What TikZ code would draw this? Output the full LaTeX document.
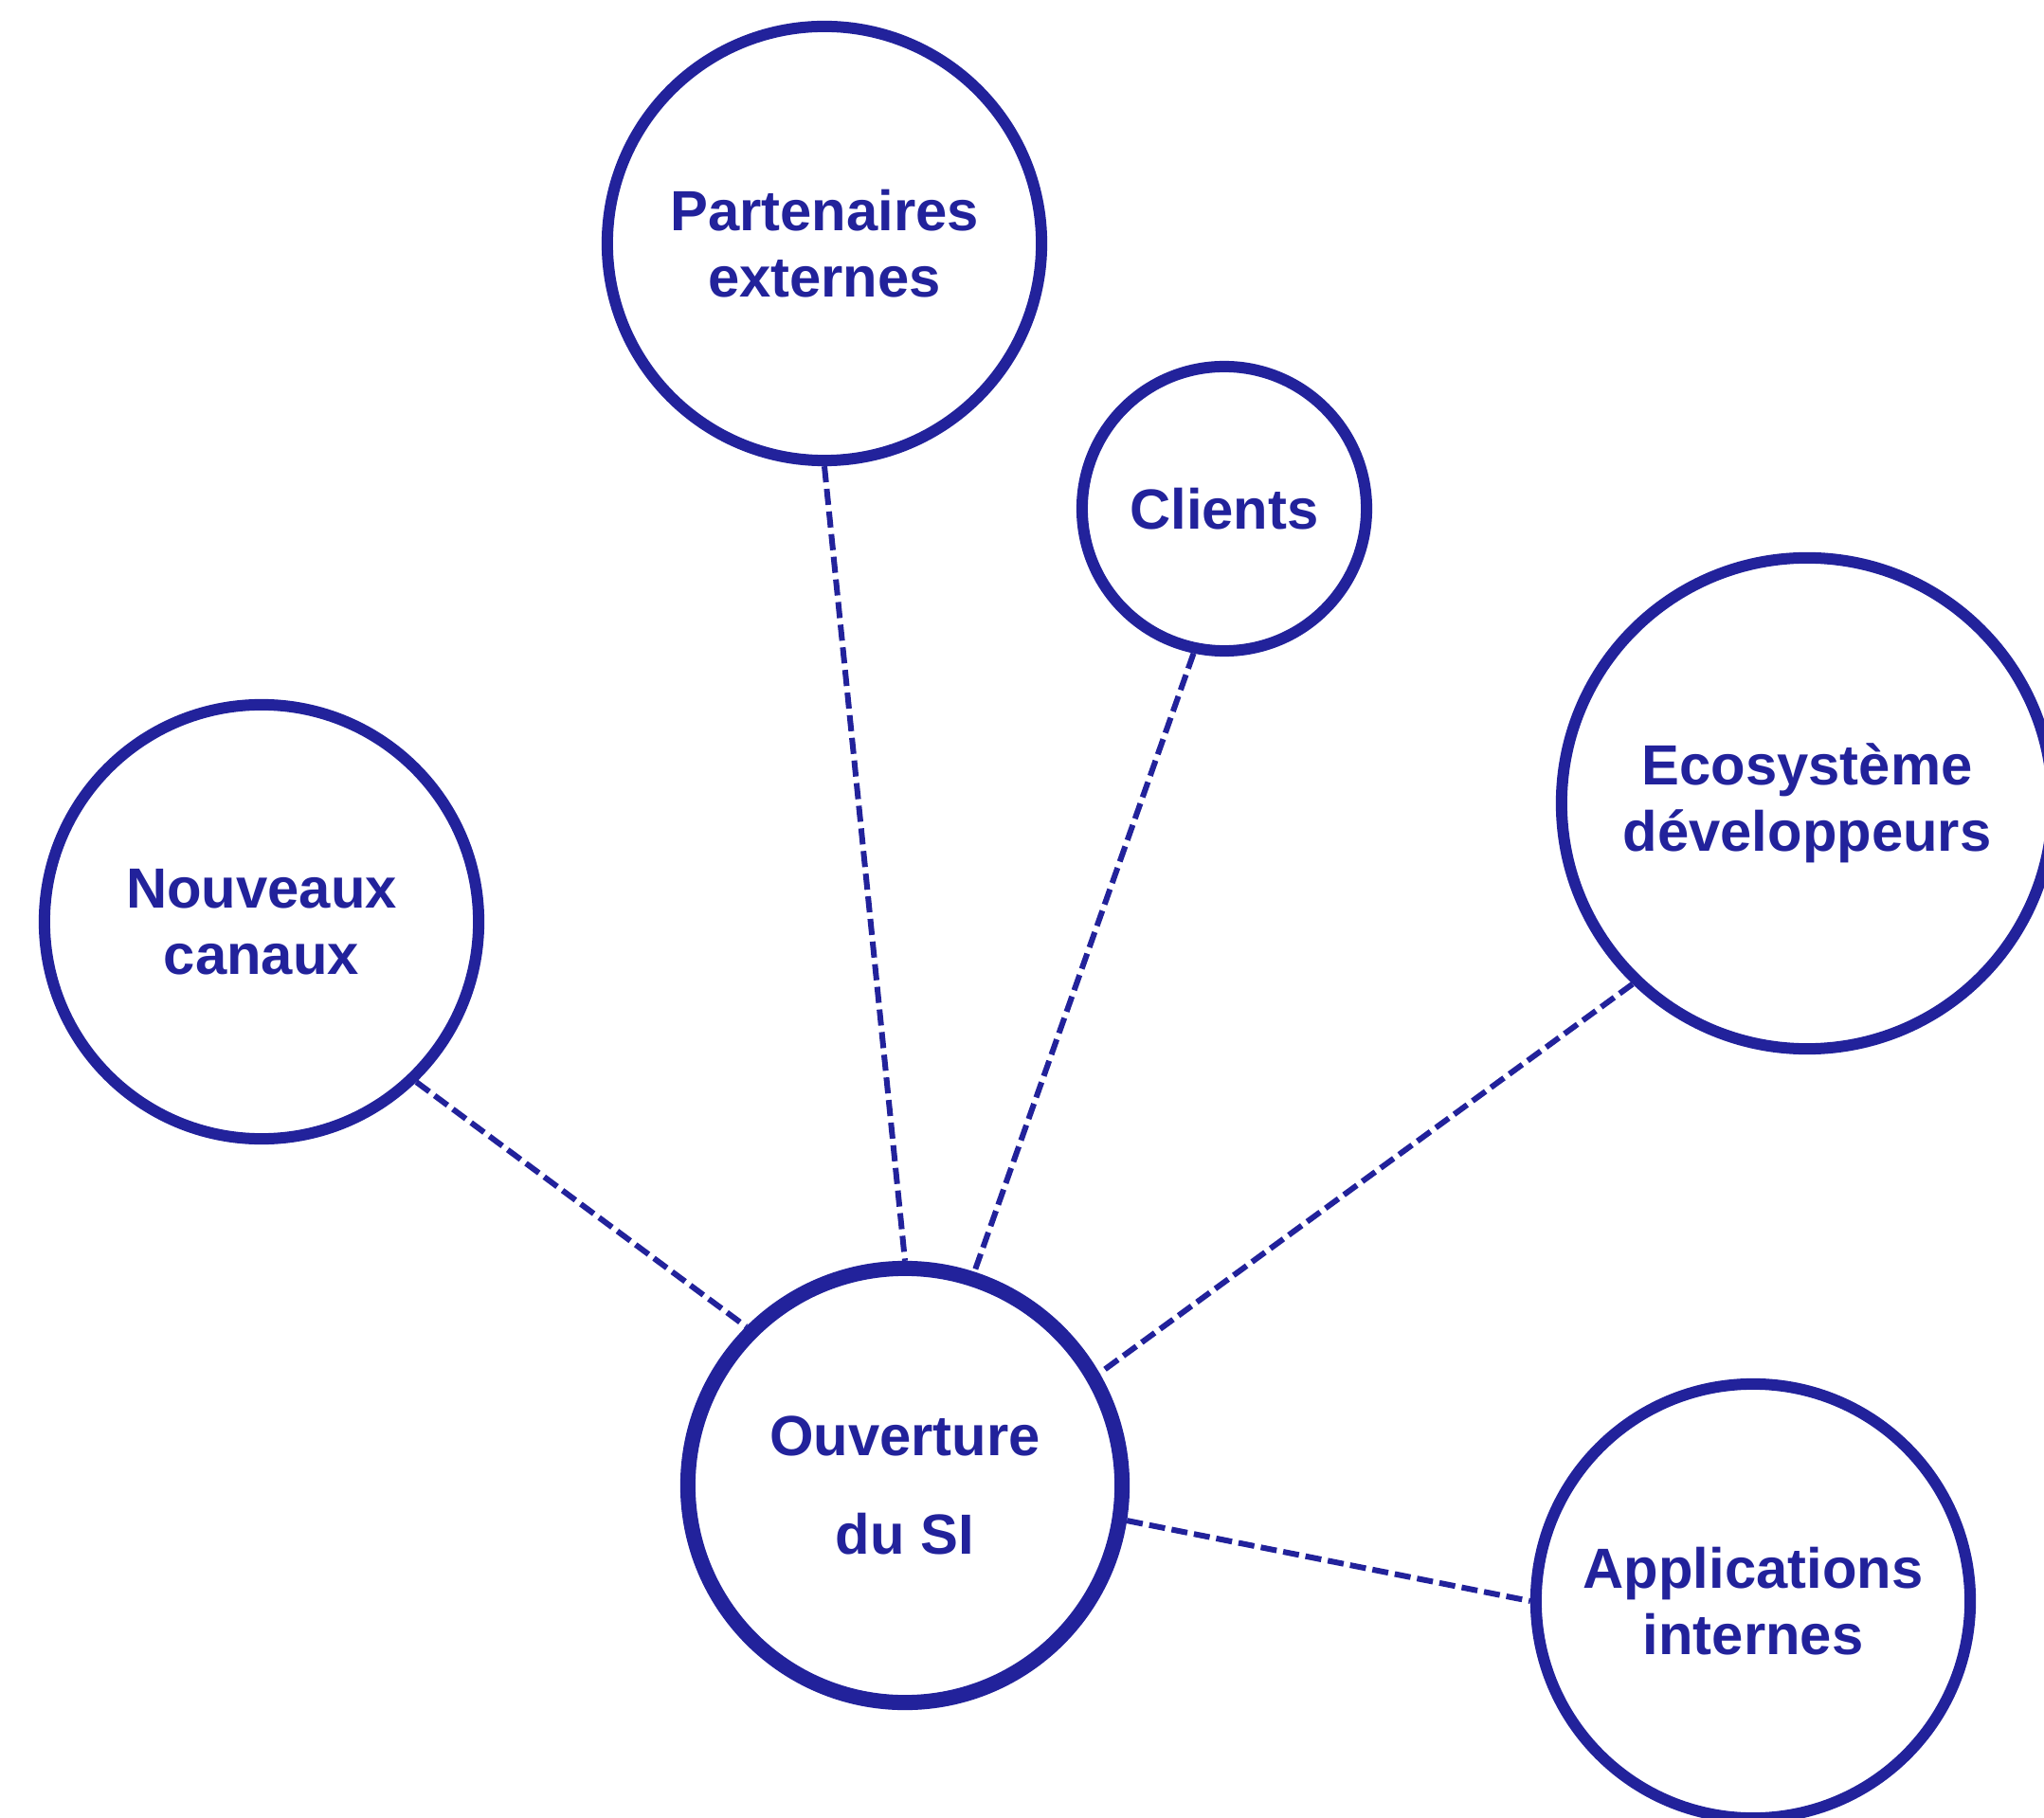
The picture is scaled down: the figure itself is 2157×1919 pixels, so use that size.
\documentclass[tikz,border=0pt]{standalone}
\usepackage{fontspec}
\setmainfont{Liberation Sans}
\definecolor{siblue}{RGB}{34,34,155}

\begin{document}
\begin{tikzpicture}[x=0.01cm,y=-0.01cm,every node/.style = {draw=siblue, text=siblue, shape=circle, align=center, line width=0.12cm, inner sep=0pt, font=\bfseries\fontsize{17}{20}\selectfont},big/.style={minimum size=4.58cm},small/.style={minimum size=3cm},huge/.style={minimum size=5.18cm},core/.style={minimum size=4.58cm, line width=0.16cm, font=\bfseries\fontsize{17}{29.5}\selectfont},link/.style={draw=siblue, dash pattern=on 0.17cm off 0.07cm, line width=0.06cm}]
\useasboundingbox (0,0) rectangle (2157,1919);
\node[core](ouv) at (955,1568) {Ouverture\\du SI};
\node[big](part) at (870,257) {Partenaires\\externes};
\node[small](cli) at (1292,537) {Clients};
\node[huge](eco) at (1907,848) {Ecosystème\\développeurs};
\node[big](can) at (276,973) {Nouveaux\\canaux};
\node[big](app) at (1850,1690) {Applications\\internes};
\draw[link] (part.south) -- (ouv.north);
\draw[link] (cli.258) -- (ouv.72);
\draw[link] (eco.226) -- (ouv.30);
\draw[link] (can.314) -- (ouv.135);
\draw[link] (ouv.351) -- (app.west);
\end{tikzpicture}
\end{document}
